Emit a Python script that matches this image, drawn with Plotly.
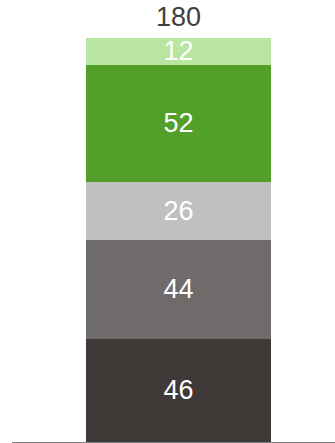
import plotly.graph_objects as go

category = ["Total"]
series_names = ["S1", "S2", "S3", "S4", "S5"]
series_values = [46, 44, 26, 52, 12]
colors = ["#3F3938", "#6F6B6B", "#C0C0C0", "#52A02A", "#B8E6A0"]
total = sum(series_values)

FONT = "Liberation Sans, Arial, sans-serif"

fig = go.Figure()
for name, v, c in zip(series_names, series_values, colors):
    fig.add_trace(go.Bar(
        x=category, y=[v], name=name, marker=dict(color=c, line=dict(width=0)),
        text=[str(v)], textposition="inside", insidetextanchor="middle",
        textfont=dict(color="white", size=27, family=FONT),
        constraintext="none", hoverinfo="skip",
    ))

fig.add_annotation(x=category[0], y=total, text=str(total), showarrow=False,
                   yanchor="bottom", yshift=4,
                   font=dict(size=27, color="#404040", family=FONT))

fig.update_layout(
    barmode="stack", bargap=0.444, width=335, height=443,
    margin=dict(l=12, r=0, t=38, b=1),
    plot_bgcolor="white", paper_bgcolor="white", showlegend=False,
    xaxis=dict(range=[-0.5, 0.47], showticklabels=False, showgrid=False, zeroline=False,
               showline=True, linecolor="#7F7F7F", linewidth=1.5, ticks=""),
    yaxis=dict(range=[0, total], visible=False, showgrid=False, zeroline=False),
)
fig.write_html("out.html")
